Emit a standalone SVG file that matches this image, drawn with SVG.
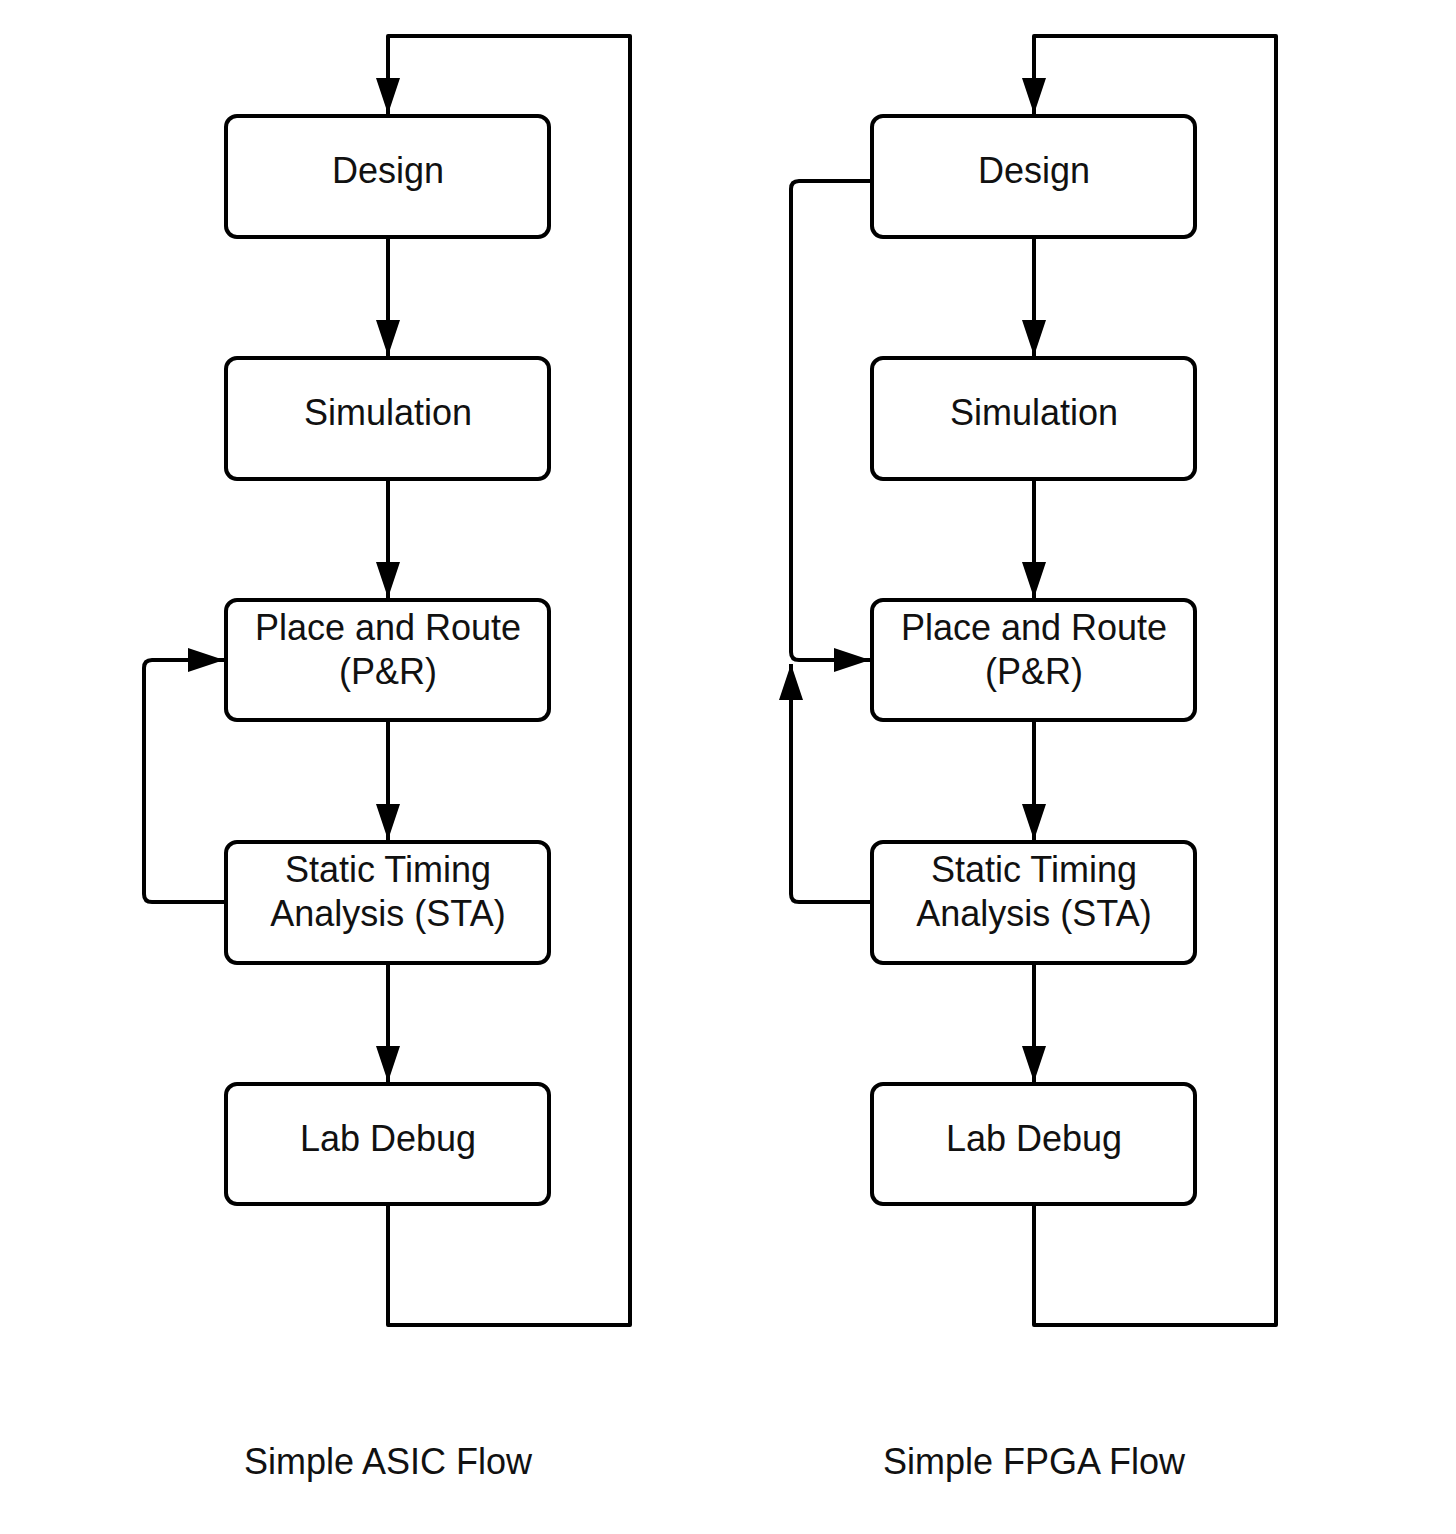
<svg xmlns="http://www.w3.org/2000/svg" width="1456" height="1534" viewBox="0 0 1456 1534">
<style>
.box{fill:#fff;stroke:#000;stroke-width:4}
.ln{fill:none;stroke:#000;stroke-width:4;stroke-linejoin:round}
.t{font-family:"Liberation Sans",Arial,sans-serif;font-size:36px;fill:#111;text-anchor:middle}
</style>
<defs>
<marker id="ah" viewBox="0 0 36 24" refX="36" refY="12" markerWidth="36" markerHeight="24" markerUnits="userSpaceOnUse" orient="auto">
<path d="M0,0 L36,12 L0,24 Z" fill="#000"/>
</marker>
</defs>
<rect width="1456" height="1534" fill="#fff"/>
<g id="connectors">
<path class="ln" d="M388,1206 V1325 H630 V36 H388 V114" marker-end="url(#ah)"/>
<path class="ln" d="M388,237 V356" marker-end="url(#ah)"/>
<path class="ln" d="M388,479 V598" marker-end="url(#ah)"/>
<path class="ln" d="M388,720 V840" marker-end="url(#ah)"/>
<path class="ln" d="M388,963 V1082" marker-end="url(#ah)"/>
<path class="ln" d="M226,902 H152 Q144,902 144,894 V668 Q144,660 152,660 H224" marker-end="url(#ah)"/>
<path class="ln" d="M1034,1206 V1325 H1276 V36 H1034 V114" marker-end="url(#ah)"/>
<path class="ln" d="M1034,237 V356" marker-end="url(#ah)"/>
<path class="ln" d="M1034,479 V598" marker-end="url(#ah)"/>
<path class="ln" d="M1034,720 V840" marker-end="url(#ah)"/>
<path class="ln" d="M1034,963 V1082" marker-end="url(#ah)"/>
<path class="ln" d="M872,181 H799 Q791,181 791,189 V652 Q791,660 799,660 H870" marker-end="url(#ah)"/>
<path class="ln" d="M872,902 H799 Q791,902 791,894 V664" marker-end="url(#ah)"/>
</g>
<g id="asic-design"><rect class="box" x="226" y="116" width="323" height="121" rx="11"/><text class="t" x="388" y="183">Design</text></g>
<g id="asic-sim"><rect class="box" x="226" y="358" width="323" height="121" rx="11"/><text class="t" x="388" y="425">Simulation</text></g>
<g id="asic-pr"><rect class="box" x="226" y="600" width="323" height="120" rx="11"/><text class="t" x="388" y="640">Place and Route</text><text class="t" x="388" y="684">(P&amp;R)</text></g>
<g id="asic-sta"><rect class="box" x="226" y="842" width="323" height="121" rx="11"/><text class="t" x="388" y="882">Static Timing</text><text class="t" x="388" y="926">Analysis (STA)</text></g>
<g id="asic-lab"><rect class="box" x="226" y="1084" width="323" height="120" rx="11"/><text class="t" x="388" y="1151">Lab Debug</text></g>
<g id="fpga-design"><rect class="box" x="872" y="116" width="323" height="121" rx="11"/><text class="t" x="1034" y="183">Design</text></g>
<g id="fpga-sim"><rect class="box" x="872" y="358" width="323" height="121" rx="11"/><text class="t" x="1034" y="425">Simulation</text></g>
<g id="fpga-pr"><rect class="box" x="872" y="600" width="323" height="120" rx="11"/><text class="t" x="1034" y="640">Place and Route</text><text class="t" x="1034" y="684">(P&amp;R)</text></g>
<g id="fpga-sta"><rect class="box" x="872" y="842" width="323" height="121" rx="11"/><text class="t" x="1034" y="882">Static Timing</text><text class="t" x="1034" y="926">Analysis (STA)</text></g>
<g id="fpga-lab"><rect class="box" x="872" y="1084" width="323" height="120" rx="11"/><text class="t" x="1034" y="1151">Lab Debug</text></g>
<g id="captions">
<text class="t" x="388" y="1474">Simple ASIC Flow</text>
<text class="t" x="1034" y="1474">Simple FPGA Flow</text>
</g>
</svg>
